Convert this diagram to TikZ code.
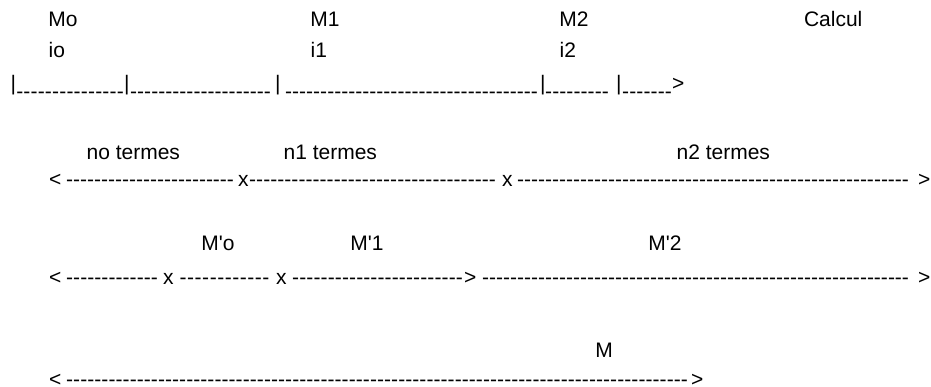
\documentclass[tikz,border=0pt]{standalone}
\usepackage{fontspec}
\newfontfamily\af{Liberation Sans}
\newcommand{\hyrun}[1]{\hbox to #1{\xleaders\hbox{-}\hfill}}
\tikzset{
  txt/.style={anchor=base west, inner sep=0pt, outer sep=0pt, font=\af\fontsize{21}{25}\selectfont, text=black},
}
\begin{document}
\begin{tikzpicture}[x=1pt,y=-1pt]
\useasboundingbox (0,0) rectangle (931,387);
% row 1 labels
\node[txt] (mo) at (48.4,27) {Mo};
\node[txt] (m1) at (310.4,27) {M1};
\node[txt] (m2) at (559.4,27) {M2};
\node[txt] (calc) at (804,27) {Calcul};
\node[txt] (io) at (48.6,58) {io};
\node[txt] (i1) at (310.6,58) {i1};
\node[txt] (i2) at (559.6,58) {i2};
% row 1 scale line
\node[txt] (b0) at (10.7,91) {|};
\node[txt] (b1) at (124,91) {|};
\node[txt] (b2) at (275,91) {|};
\node[txt] (b3) at (540,91) {|};
\node[txt] (b4) at (616,91) {|};
\node[txt] (d0) at (16.1,98.6) {\hyrun{107.9pt}};
\node[txt] (d1) at (130.1,98.6) {\hyrun{140.9pt}};
\node[txt] (d2) at (285.1,98.6) {\hyrun{252.9pt}};
\node[txt] (d3) at (545.1,98.6) {\hyrun{63.9pt}};
\node[txt] (d4) at (622.1,98.6) {\hyrun{49.9pt}};
\node[txt] (g0) at (672,91) {>};
% row 4 labels
\node[txt] (n0) at (86.6,160) {no termes};
\node[txt] (n1) at (283.6,160) {n1 termes};
\node[txt] (n2) at (676.6,160) {n2 termes};
% row 5
\node[txt] (l5) at (49,187) {<};
\node[txt] (r5a) at (66.1,187) {\hyrun{167.9pt}};
\node[txt] (x5a) at (238,187) {x};
\node[txt] (r5b) at (249.1,187) {\hyrun{246.9pt}};
\node[txt] (x5b) at (502,187) {x};
\node[txt] (r5c) at (517.1,187) {\hyrun{391.9pt}};
\node[txt] (g5) at (918,187) {>};
% row 6 labels
\node[txt] (mpo) at (201.4,251) {M'o};
\node[txt] (mp1) at (350.4,251) {M'1};
\node[txt] (mp2) at (648.4,251) {M'2};
% row 7
\node[txt] (l7) at (49,284) {<};
\node[txt] (r7a) at (66.1,284) {\hyrun{91.9pt}};
\node[txt] (x7a) at (163,284) {x};
\node[txt] (r7b) at (179.1,284) {\hyrun{90.9pt}};
\node[txt] (x7b) at (276,284) {x};
\node[txt] (r7c) at (292.1,284) {\hyrun{170.9pt}};
\node[txt] (g7a) at (464,284) {>};
\node[txt] (r7d) at (482.1,284) {\hyrun{426.9pt}};
\node[txt] (g7b) at (918,284) {>};
% row 8
\node[txt] (mm) at (595.4,357) {M};
\node[txt] (l8) at (49,386) {<};
\node[txt] (r8a) at (66.1,386) {\hyrun{621.9pt}};
\node[txt] (g8) at (691,386) {>};
\end{tikzpicture}
\end{document}
